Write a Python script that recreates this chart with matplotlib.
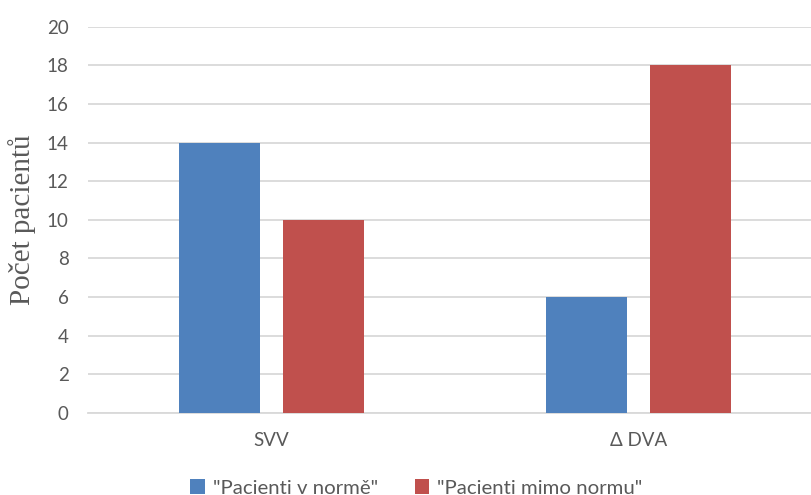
import numpy as np
import matplotlib.pyplot as plt
from matplotlib.patches import Patch

categories = ['SVV', 'Δ DVA']
series_names = ['"Pacienti v normě"', '"Pacienti mimo normu"']
in_norm = [14, 6]
out_of_norm = [10, 18]
colors = ['#4F81BD', '#C0504D']
y_ticks = list(range(0, 21, 2))

plt.rcParams['font.family'] = ['Lato', 'DejaVu Sans']

fig = plt.figure(figsize=(8.11, 4.95), dpi=100)
# plot area runs a little past the right edge, like the exported chart
ax = fig.add_axes([88 / 811, 82 / 495, 734 / 811, 386.3 / 495])

x = np.arange(len(categories))
bar_w = 0.2234
offset = 0.1417
ax.bar(x - offset, in_norm, width=bar_w, color=colors[0], zorder=3)
ax.bar(x + offset, out_of_norm, width=bar_w, color=colors[1], zorder=3)

ax.set_xlim(-0.5, 1.5)
ax.set_ylim(0, 20)
ax.set_yticks(y_ticks)
ax.set_xticks(x)
ax.set_xticklabels(categories)
ax.yaxis.grid(True, color='#D9D9D9', linewidth=1.3, zorder=0)
ax.tick_params(axis='both', length=0, labelsize=13.5, labelcolor='#595959')
ax.tick_params(axis='y', pad=14)
ax.tick_params(axis='x', pad=14)
for side in ['top', 'right', 'left']:
    ax.spines[side].set_visible(False)
ax.spines['bottom'].set_color('#D9D9D9')
ax.spines['bottom'].set_linewidth(1.3)

ax.set_ylabel('Počet pacientů', family=['Liberation Serif', 'DejaVu Serif'],
              fontsize=21, color='#595959')
ax.yaxis.set_label_coords(-0.071, 0.5)

handles = [Patch(facecolor=c, edgecolor='none') for c in colors]
fig.legend(handles, series_names, loc='center',
           bbox_to_anchor=(416.5 / 811, 1 - 488 / 495),
           ncol=2, frameon=False, fontsize=14.7, labelcolor='#595959',
           handlelength=0.7, handleheight=0.7, handletextpad=0.4,
           columnspacing=1.8)

fig.savefig('out.png', dpi=100)
